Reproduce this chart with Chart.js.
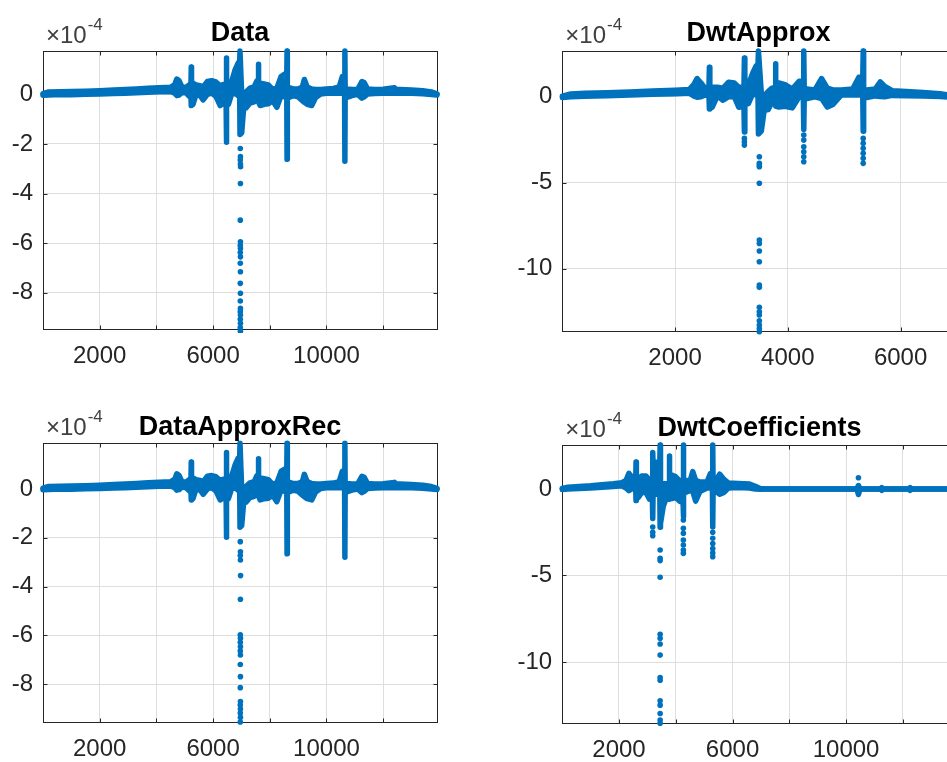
<!DOCTYPE html>
<html>
<head>
<meta charset="utf-8">
<script src="https://cdn.jsdelivr.net/npm/chart.js@4/dist/chart.umd.min.js"></script>
<style>
  body { margin: 0; background: #fff; }
  #wrap { position: relative; width: 947px; height: 762px; overflow: hidden; background: #fff; }
  canvas { position: absolute; }
</style>
</head>
<body>
<div id="wrap">
  <canvas id="cData" width="480" height="380" style="left:0;top:0"></canvas>
  <canvas id="cApprox" width="557" height="380" style="left:480px;top:0"></canvas>
  <canvas id="cRec" width="480" height="372" style="left:0;top:390px"></canvas>
  <canvas id="cCoef" width="559" height="372" style="left:480px;top:390px"></canvas>
</div>
<script>
// values are in units of 1e-4; hi/lo = top and bottom edge of the dense band of samples
const dataX = [0, 200, 600, 1000, 1500, 2000, 2500, 2900, 3300, 3700, 4100, 4500, 4650, 4720, 4800, 4900, 5050, 5180, 5220, 5230, 5240, 5290, 5400, 5550, 5650, 5800, 5950, 6100, 6250, 6380, 6460, 6470, 6480, 6540, 6650, 6780, 6880, 6940, 6950, 6960, 7010, 7080, 7160, 7300, 7450, 7550, 7590, 7600, 7610, 7660, 7800, 7950, 8100, 8250, 8400, 8530, 8600, 8610, 8620, 8680, 8820, 9000, 9150, 9220, 9320, 9480, 9620, 9800, 10000, 10250, 10450, 10560, 10640, 10650, 10660, 10720, 10900, 11100, 11250, 11330, 11450, 11700, 12000, 12400, 12450, 12600, 13000, 13400, 13700, 13900];
const dataHi = [0.03, 0.10, 0.11, 0.12, 0.13, 0.15, 0.18, 0.20, 0.22, 0.25, 0.27, 0.29, 0.40, 0.62, 0.55, 0.30, 0.28, 0.40, 0.40, 1.10, 0.42, 0.45, 0.38, 0.35, 0.30, 0.52, 0.55, 0.50, 0.35, 0.40, 0.40, 1.47, 0.40, 0.40, 0.50, 1.00, 1.25, 1.35, 1.75, 1.75, 0.00, -0.02, 0.10, 0.25, 0.30, 0.55, 0.50, 1.22, 0.45, 0.45, 0.42, 0.38, 0.20, 0.25, 0.72, 0.82, 0.80, 1.75, 0.30, 0.28, 0.22, 0.22, 0.30, 0.60, 0.30, 0.22, 0.20, 0.20, 0.22, 0.24, 0.30, 0.72, 0.70, 1.75, 0.22, 0.22, 0.20, 0.20, 0.52, 0.48, 0.22, 0.20, 0.21, 0.27, 0.20, 0.20, 0.18, 0.15, 0.10, 0.02];
const dataLo = [-0.03, -0.02, 0.00, -0.01, 0.01, 0.02, 0.04, 0.05, 0.07, 0.09, 0.11, 0.12, 0.05, -0.05, -0.03, 0.08, 0.05, -0.10, -0.10, -0.45, -0.35, -0.40, 0.00, -0.05, -0.22, 0.00, 0.05, -0.08, -0.45, -0.35, -0.38, -1.93, -0.40, -0.40, 0.00, 0.05, -0.05, -0.10, -1.62, -1.62, -1.55, -0.55, -0.55, -0.35, -0.30, -0.10, -0.15, -0.25, -0.30, -0.45, -0.40, -0.38, -0.25, -0.52, -0.05, -0.10, -0.10, -2.62, -0.15, -0.12, -0.05, -0.10, -0.25, -0.32, -0.40, -0.45, -0.12, 0.02, 0.05, 0.06, 0.05, 0.05, 0.05, -2.70, -0.10, -0.12, -0.05, 0.00, -0.15, -0.10, 0.02, 0.04, 0.05, 0.05, 0.05, 0.06, 0.05, 0.03, 0.00, -0.02];
const dataDotX = [6960, 6965, 6960, 6965, 6970, 6965, 6960, 6965, 6960, 6965, 6960, 6965, 6960, 6965, 6960, 6965, 6960, 6965, 6960, 6965, 6960, 6965, 6960, 6965];
const dataDotY = [-2.18, -2.51, -2.65, -2.81, -2.92, -3.59, -5.07, -5.94, -6.08, -6.21, -6.38, -6.55, -6.81, -7.15, -7.62, -8.02, -8.33, -8.63, -8.76, -8.90, -9.07, -9.23, -9.40, -9.55];

const approxX = [0, 150, 400, 800, 1200, 1600, 2000, 2250, 2330, 2390, 2460, 2540, 2601, 2609, 2617, 2660, 2750, 2850, 2950, 3050, 3130, 3222, 3230, 3238, 3300, 3380, 3440, 3471, 3479, 3530, 3580, 3650, 3720, 3773, 3781, 3789, 3840, 3950, 4080, 4200, 4275, 4283, 4291, 4340, 4480, 4600, 4700, 4800, 4950, 5150, 5260, 5329, 5337, 5345, 5400, 5550, 5640, 5720, 5850, 6100, 6400, 6700, 6960];
const approxHi = [0.04, 0.16, 0.20, 0.24, 0.28, 0.33, 0.38, 0.42, 0.70, 1.06, 0.80, 0.45, 0.50, 1.72, 0.55, 0.55, 0.55, 0.50, 0.85, 0.80, 0.55, 0.55, 2.26, 0.70, 0.70, 1.40, 1.80, 1.85, 2.66, 0.20, 0.05, 0.30, 0.50, 0.55, 1.92, 0.80, 0.80, 0.70, 0.45, 0.90, 0.90, 2.66, 0.45, 0.45, 0.40, 1.06, 0.50, 0.40, 0.40, 0.45, 1.13, 1.13, 2.66, 0.40, 0.40, 0.45, 0.87, 0.60, 0.35, 0.30, 0.25, 0.18, 0.04];
const approxLo = [-0.04, 0.00, 0.03, 0.06, 0.10, 0.14, 0.18, 0.22, 0.05, -0.03, 0.00, 0.10, 0.05, -0.71, -0.55, -0.60, 0.05, -0.20, 0.00, 0.00, -0.61, -0.55, -2.05, -0.45, -0.40, 0.20, 0.10, 0.05, -2.17, -2.00, -0.80, -0.75, -0.30, -0.25, -0.20, -0.55, -0.60, -0.55, -0.65, 0.00, 0.00, -1.90, -0.10, -0.10, 0.00, -0.10, -0.60, -0.45, 0.10, 0.10, 0.10, 0.10, -2.00, -0.05, -0.05, 0.05, 0.02, 0.00, 0.08, 0.06, 0.04, 0.02, -0.04];
const approxDotX = [3230, 3230, 3230, 3495, 3495, 3495, 3495, 3495, 3495, 3495, 3495, 3495, 3495, 3495, 3495, 3495, 3495, 3495, 3495, 3495, 3495, 4283, 4283, 4283, 4283, 4283, 4283, 5337, 5337, 5337, 5337, 5337, 5337];
const approxDotY = [-2.42, -2.62, -2.81, -3.49, -3.87, -3.97, -4.07, -5.03, -8.33, -8.53, -8.97, -9.59, -10.95, -11.08, -12.24, -12.50, -12.69, -13.02, -13.27, -13.47, -13.66, -2.23, -2.52, -2.91, -3.20, -3.49, -3.78, -2.42, -2.71, -3.00, -3.29, -3.58, -3.87];

const recX = [0, 200, 600, 1000, 1500, 2000, 2500, 2900, 3300, 3700, 4100, 4500, 4650, 4720, 4800, 4900, 5050, 5180, 5220, 5230, 5240, 5290, 5400, 5550, 5650, 5800, 5950, 6100, 6250, 6380, 6460, 6470, 6480, 6540, 6650, 6780, 6880, 6940, 6950, 6960, 7010, 7080, 7160, 7300, 7450, 7550, 7590, 7600, 7610, 7660, 7800, 7950, 8100, 8250, 8400, 8530, 8600, 8610, 8620, 8680, 8820, 9000, 9150, 9220, 9320, 9480, 9620, 9800, 10000, 10250, 10450, 10560, 10640, 10650, 10660, 10720, 10900, 11100, 11250, 11330, 11450, 11700, 12000, 12400, 12450, 12600, 13000, 13400, 13700, 13900];
const recHi = [0.03, 0.10, 0.11, 0.12, 0.13, 0.15, 0.18, 0.20, 0.22, 0.25, 0.27, 0.29, 0.40, 0.62, 0.55, 0.30, 0.28, 0.40, 0.40, 1.10, 0.42, 0.45, 0.38, 0.35, 0.30, 0.52, 0.55, 0.50, 0.35, 0.40, 0.40, 1.49, 0.40, 0.40, 0.50, 1.00, 1.25, 1.35, 1.87, 1.87, 0.00, -0.02, 0.10, 0.25, 0.30, 0.55, 0.50, 1.24, 0.45, 0.45, 0.42, 0.38, 0.20, 0.25, 0.72, 0.82, 0.80, 1.87, 0.30, 0.28, 0.22, 0.22, 0.30, 0.60, 0.30, 0.22, 0.20, 0.20, 0.22, 0.24, 0.30, 0.72, 0.70, 1.87, 0.22, 0.22, 0.20, 0.20, 0.52, 0.48, 0.22, 0.20, 0.21, 0.27, 0.20, 0.20, 0.18, 0.15, 0.10, 0.02];
const recLo = [-0.03, -0.02, 0.00, -0.01, 0.01, 0.02, 0.04, 0.05, 0.07, 0.09, 0.11, 0.12, 0.05, -0.05, -0.03, 0.08, 0.05, -0.10, -0.10, -0.45, -0.35, -0.40, 0.00, -0.05, -0.22, 0.00, 0.05, -0.08, -0.45, -0.35, -0.38, -1.98, -0.40, -0.40, 0.00, 0.05, -0.05, -0.10, -1.57, -1.57, -1.50, -0.55, -0.55, -0.35, -0.30, -0.10, -0.15, -0.25, -0.30, -0.45, -0.40, -0.38, -0.25, -0.52, -0.05, -0.10, -0.10, -2.66, -0.15, -0.12, -0.05, -0.10, -0.25, -0.32, -0.40, -0.45, -0.12, 0.02, 0.05, 0.06, 0.05, 0.05, 0.05, -2.80, -0.10, -0.12, -0.05, 0.00, -0.15, -0.10, 0.02, 0.04, 0.05, 0.05, 0.05, 0.06, 0.05, 0.03, 0.00, -0.02];
const recDotX = [6960, 6965, 6960, 6965, 6970, 6965, 6960, 6965, 6960, 6965, 6960, 6965, 6960, 6965, 6960, 6965, 6960, 6965, 6960, 6965, 6960];
const recDotY = [-2.16, -2.57, -2.73, -2.91, -3.55, -4.52, -5.98, -6.12, -6.28, -6.46, -6.64, -6.80, -7.19, -7.69, -8.14, -8.71, -8.85, -9.02, -9.18, -9.36, -9.55];

const coefX = [0, 200, 600, 1000, 1400, 1800, 2100, 2250, 2350, 2450, 2520, 2589, 2601, 2613, 2680, 2800, 2950, 3080, 3177, 3189, 3201, 3300, 3438, 3450, 3462, 3560, 3650, 3763, 3775, 3787, 3860, 4000, 4150, 4256, 4268, 4280, 4340, 4500, 4600, 4700, 4850, 5100, 5220, 5291, 5303, 5315, 5380, 5550, 5700, 5850, 6200, 6600, 6800, 6970, 7200, 8000, 9000, 10380, 10435, 10490, 11220, 11259, 11300, 12220, 12256, 12290, 13900];
const coefHi = [0.03, 0.10, 0.14, 0.18, 0.24, 0.30, 0.36, 0.50, 0.90, 0.70, 0.40, 0.40, 1.56, 0.50, 0.50, 0.75, 0.75, 0.50, 0.50, 2.10, 1.55, 1.55, 1.55, 2.54, 0.30, 0.30, 0.30, 0.30, 1.91, 0.80, 0.80, 0.70, 0.45, 0.45, 2.54, 0.50, 0.50, 0.45, 1.00, 0.50, 0.40, 0.40, 0.90, 0.90, 2.54, 0.40, 0.40, 0.85, 0.55, 0.35, 0.32, 0.28, 0.15, 0.02, 0.00, 0.00, 0.00, 0.00, 0.20, 0.00, 0.00, 0.08, 0.00, 0.00, 0.08, 0.00, 0.00];
const coefLo = [-0.03, 0.00, 0.02, 0.05, 0.10, 0.14, 0.18, 0.05, -0.10, 0.00, 0.05, 0.05, -0.67, -0.50, -0.50, -0.20, -0.20, -0.60, -0.60, -1.70, -0.30, -0.30, -0.30, -2.21, -2.00, -1.00, -0.60, -0.60, -0.20, -0.55, -0.55, -0.50, -0.73, -0.73, -1.60, -0.20, -0.20, -0.10, -0.15, -0.70, -0.15, 0.05, 0.05, 0.05, -2.20, -0.10, -0.10, -0.30, -0.20, 0.05, 0.08, 0.06, 0.00, -0.02, 0.00, 0.00, 0.00, 0.00, -0.32, 0.00, 0.00, -0.08, 0.00, 0.00, -0.08, 0.00, 0.00];
const coefDotX = [3189, 3189, 3189, 3450, 3450, 3450, 3450, 3450, 3450, 3450, 3450, 3450, 3450, 3450, 3450, 3450, 3450, 3450, 4268, 4268, 4268, 4268, 4268, 4268, 4268, 5303, 5303, 5303, 5303, 5303, 5303, 10435];
const coefDotY = [-2.20, -2.50, -2.70, -3.53, -4.00, -4.14, -5.10, -8.40, -8.63, -8.96, -9.60, -10.89, -11.05, -12.24, -12.49, -12.97, -13.35, -13.54, -1.79, -2.27, -2.56, -2.95, -3.24, -3.53, -3.72, -2.50, -2.85, -3.15, -3.45, -3.70, -3.92, 0.65];

// axis ticks
const xTicksFull = [2000, 4000, 6000, 8000, 10000, 12000];
const xLabelsFull = ['2000', '', '6000', '', '10000', ''];
const xTicksHalf = [2000, 4000, 6000];
const xLabelsHalf = ['2000', '4000', '6000'];
const yTicksSmall = [0, -2, -4, -6, -8];
const yLabelsSmall = ['0', '-2', '-4', '-6', '-8'];
const yTicksBig = [0, -5, -10];
const yLabelsBig = ['0', '-5', '-10'];

const BLUE = '#0072BD';
const FONT = '"Liberation Sans", Arial, Helvetica, sans-serif';
const INK = '#262626';

// axes box, inward tick marks and the x10^-4 exponent label, MATLAB style
const matlabAxes = {
    id: 'matlabAxes',
    beforeDatasetsDraw(chart) {
        const {ctx, chartArea: a, scales} = chart;
        const l = Math.round(a.left) + 0.5, r = Math.round(a.right) + 0.5;
        const t = Math.round(a.top) + 0.5, b = Math.round(a.bottom) + 0.5;
        ctx.save();
        ctx.strokeStyle = INK;
        ctx.lineWidth = 1;
        ctx.strokeRect(l, t, r - l, b - t);
        ctx.beginPath();
        scales.x.ticks.forEach(tk => {
            const px = Math.round(scales.x.getPixelForValue(tk.value)) + 0.5;
            if (px < l || px > r) return;
            ctx.moveTo(px, b); ctx.lineTo(px, b - 4);
            ctx.moveTo(px, t); ctx.lineTo(px, t + 4);
        });
        scales.y.ticks.forEach(tk => {
            const py = Math.round(scales.y.getPixelForValue(tk.value)) + 0.5;
            ctx.moveTo(l, py); ctx.lineTo(l + 4, py);
            ctx.moveTo(r, py); ctx.lineTo(r - 4, py);
        });
        ctx.stroke();
        ctx.restore();
    },
    afterDraw(chart) {
        const {ctx, chartArea: a} = chart;
        ctx.save();
        ctx.fillStyle = '#404040';
        ctx.textBaseline = 'alphabetic';
        ctx.font = '24px ' + FONT;
        const base = '\u00d710';
        ctx.fillText(base, a.left + 3, a.top - 8);
        const w = ctx.measureText(base).width;
        ctx.font = '17px ' + FONT;
        ctx.fillText('-4', a.left + 4 + w, a.top - 21);
        ctx.restore();
    }
};

function drawPanel(id, p) {
    const pts = (xs, ys) => xs.map((x, i) => ({x, y: ys[i]}));
    new Chart(document.getElementById(id), {
        type: 'line',
        data: {
            datasets: [
                {data: pts(p.x, p.hi), borderColor: BLUE, borderWidth: 5.5, pointRadius: 0, fill: false, clip: 3, yAxisID: 'y'},
                {data: pts(p.x, p.lo), borderColor: BLUE, borderWidth: 5.5, pointRadius: 0, fill: '-1', backgroundColor: BLUE, clip: 3, yAxisID: 'y'},
                {data: pts(p.dotX, p.dotY), showLine: false, pointRadius: 2.8, pointBackgroundColor: BLUE, pointBorderWidth: 0, clip: 4, yAxisID: 'y'}
            ]
        },
        options: {
            responsive: false,
            animation: false,
            events: [],
            layout: {padding: 0},
            elements: {line: {tension: 0, borderJoinStyle: 'round', borderCapStyle: 'round'}},
            plugins: {
                legend: {display: false},
                tooltip: {enabled: false},
                title: {
                    display: true, text: p.title, color: '#000',
                    font: {family: FONT, size: 27, weight: 'bold', lineHeight: 1.2},
                    padding: {top: p.tTop, bottom: p.tBottom}
                }
            },
            scales: {
                x: {
                    type: 'linear', min: p.xMin, max: p.xMax,
                    afterFit: s => { s.height = p.xH; },
                    afterBuildTicks: s => { s.ticks = p.xTicks.map(v => ({value: v})); },
                    ticks: {
                        callback: (v, i) => p.xLabels[i], autoSkip: false, maxRotation: 0, minRotation: 0,
                        color: INK, padding: 13, font: {family: FONT, size: 24}
                    },
                    grid: {color: '#dedede', drawTicks: false},
                    border: {display: false}
                },
                y: {
                    min: p.yMin, max: p.yMax,
                    afterFit: s => { s.width = p.yW; },
                    afterBuildTicks: s => { s.ticks = p.yTicks.map(v => ({value: v})); },
                    ticks: {
                        callback: (v, i) => p.yLabels[i], autoSkip: false,
                        color: INK, padding: 10, font: {family: FONT, size: 24}
                    },
                    grid: {color: '#dedede', drawTicks: false},
                    border: {display: false}
                },
                y2: {
                    position: 'right', min: p.yMin, max: p.yMax,
                    afterFit: s => { s.width = p.yW; },
                    ticks: {display: false},
                    grid: {display: false},
                    border: {display: false}
                }
            }
        },
        plugins: [matlabAxes]
    });
}

drawPanel('cData', {
    title: 'Data', x: dataX, hi: dataHi, lo: dataLo, dotX: dataDotX, dotY: dataDotY,
    xMin: 0, xMax: 13900, yMin: -9.46, yMax: 1.75,
    xTicks: xTicksFull, xLabels: xLabelsFull, yTicks: yTicksSmall, yLabels: yLabelsSmall,
    yW: 43, xH: 51, tTop: 17.3, tBottom: 1.3
});
drawPanel('cApprox', {
    title: 'DwtApprox', x: approxX, hi: approxHi, lo: approxLo, dotX: approxDotX, dotY: approxDotY,
    xMin: 0, xMax: 6960, yMin: -13.6, yMax: 2.66,
    xTicks: xTicksHalf, xLabels: xLabelsHalf, yTicks: yTicksBig, yLabels: yLabelsBig,
    yW: 82.3, xH: 49.3, tTop: 17.3, tBottom: 1.3
});
drawPanel('cRec', {
    title: 'DataApproxRec', x: recX, hi: recHi, lo: recLo, dotX: recDotX, dotY: recDotY,
    xMin: 0, xMax: 13900, yMin: -9.56, yMax: 1.87,
    xTicks: xTicksFull, xLabels: xLabelsFull, yTicks: yTicksSmall, yLabels: yLabelsSmall,
    yW: 43, xH: 39.7, tTop: 20.9, tBottom: 0
});
drawPanel('cCoef', {
    title: 'DwtCoefficients', x: coefX, hi: coefHi, lo: coefLo, dotX: coefDotX, dotY: coefDotY,
    xMin: 0, xMax: 13900, yMin: -13.54, yMax: 2.54,
    xTicks: xTicksFull, xLabels: xLabelsFull, yTicks: yTicksBig, yLabels: yLabelsBig,
    yW: 82.2, xH: 38.7, tTop: 21.9, tBottom: 0.7
});
</script>
</body>
</html>
